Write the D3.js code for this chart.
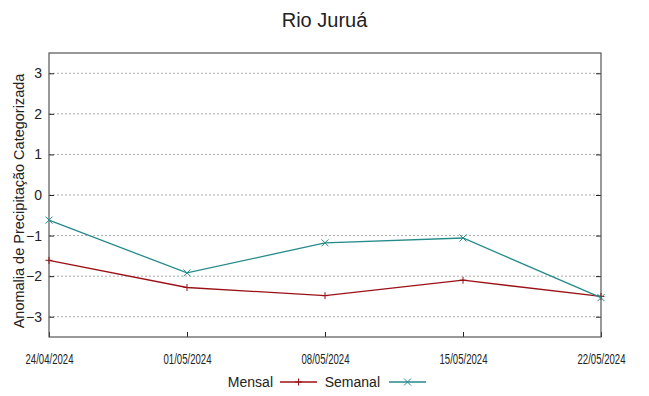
<!DOCTYPE html>
<html>
<head>
<meta charset="utf-8">
<script src="https://cdn.jsdelivr.net/npm/d3@7"></script>
<style>
  body { margin: 0; background: #fff; }
  text { font-family: "Liberation Sans", Arial, sans-serif; fill: #222; }
</style>
</head>
<body>
<div id="chart"></div>
<script>
const datas = ["2024-04-24", "2024-05-01", "2024-05-08", "2024-05-15", "2024-05-22"];
const mensal = [-1.61, -2.28, -2.48, -2.10, -2.50];
const semanal = [-0.62, -1.92, -1.18, -1.06, -2.53];
const yTicks = [-3, -2, -1, 0, 1, 2, 3];

const W = 649, H = 396;
const margin = { left: 49, right: 48, top: 53, bottom: 59 };

const parse = d3.timeParse("%Y-%m-%d");
const fmt = d3.timeFormat("%d/%m/%Y");
const dias = datas.map(parse);

const svg = d3.select("#chart").append("svg")
    .attr("width", W).attr("height", H);

const x = d3.scaleTime()
    .domain(d3.extent(dias))
    .range([margin.left, W - margin.right]);
const y = d3.scaleLinear()
    .domain([-3.5, 3.5])
    .range([H - margin.bottom, margin.top]);

// grade pontilhada
svg.append("g").selectAll("line")
    .data(yTicks)
    .enter().append("line")
    .attr("x1", margin.left).attr("x2", W - margin.right)
    .attr("y1", d => y(d)).attr("y2", d => y(d))
    .attr("stroke", "#aaa").attr("stroke-width", 1)
    .attr("stroke-dasharray", "2,2");

// eixo y (esquerda e direita)
const eixoY = svg.append("g")
    .attr("transform", `translate(${margin.left},0)`)
    .call(d3.axisLeft(y).tickValues(yTicks).tickSize(-5).tickPadding(7).tickFormat(d3.format("d")));
eixoY.select(".domain").remove();
eixoY.selectAll("line").attr("stroke", "#222");
eixoY.selectAll("text").style("font-size", "14px").attr("fill", "#222");

const eixoY2 = svg.append("g")
    .attr("transform", `translate(${W - margin.right},0)`)
    .call(d3.axisRight(y).tickValues(yTicks).tickSize(-5).tickFormat(""));
eixoY2.select(".domain").remove();
eixoY2.selectAll("line").attr("stroke", "#222");

// eixo x
const eixoX = svg.append("g")
    .attr("transform", `translate(0,${H - margin.bottom})`)
    .call(d3.axisBottom(x).tickValues(dias).tickSize(-5).tickPadding(17).tickFormat(fmt));
eixoX.select(".domain").remove();
eixoX.selectAll("line").attr("stroke", "#222");
eixoX.selectAll("text")
    .style("font-size", "14px").attr("fill", "#222")
    .attr("textLength", 48).attr("lengthAdjust", "spacingAndGlyphs");

// borda
svg.append("rect")
    .attr("x", margin.left).attr("y", margin.top)
    .attr("width", W - margin.left - margin.right)
    .attr("height", H - margin.top - margin.bottom)
    .attr("fill", "none").attr("stroke", "#555").attr("stroke-width", 1.2);

const series = [
    { nome: "Mensal", valores: mensal, cor: "#9b1016", marca: "plus" },
    { nome: "Semanal", valores: semanal, cor: "#258a8a", marca: "cross" }
];

const linha = d3.line()
    .x((d, i) => x(dias[i]))
    .y(d => y(d));

function marca(g, tipo, cx, cy, cor) {
    const s = 3.5;
    if (tipo === "plus") {
        g.append("path").attr("d", `M${cx - s},${cy}H${cx + s}M${cx},${cy - s}V${cy + s}`)
            .attr("stroke", cor).attr("stroke-width", 1).attr("fill", "none");
    } else {
        g.append("path").attr("d", `M${cx - s},${cy - s}L${cx + s},${cy + s}M${cx - s},${cy + s}L${cx + s},${cy - s}`)
            .attr("stroke", cor).attr("stroke-width", 1).attr("fill", "none");
    }
}

series.forEach(s => {
    svg.append("path")
        .datum(s.valores)
        .attr("d", linha)
        .attr("fill", "none")
        .attr("stroke", s.cor)
        .attr("stroke-width", 1.3);
    const g = svg.append("g");
    s.valores.forEach((v, i) => marca(g, s.marca, x(dias[i]), y(v), s.cor));
});

// título
svg.append("text")
    .attr("x", W / 2).attr("y", 27)
    .attr("text-anchor", "middle")
    .style("font-size", "20px")
    .text("Rio Juruá");

// rótulo y
svg.append("text")
    .attr("transform", `translate(24,201) rotate(-90)`)
    .attr("text-anchor", "middle")
    .style("font-size", "14.5px")
    .text("Anomalia de Precipitação Categorizada");

// legenda
const leg = svg.append("g");
const legItens = [
    { texto: "Mensal", tx: 273, lx1: 280, lx2: 317, cor: series[0].cor, marca: "plus" },
    { texto: "Semanal", tx: 380, lx1: 389, lx2: 426, cor: series[1].cor, marca: "cross" }
];
legItens.forEach(l => {
    leg.append("text")
        .attr("x", l.tx).attr("y", 387)
        .attr("text-anchor", "end")
        .style("font-size", "14px")
        .text(l.texto);
    leg.append("line")
        .attr("x1", l.lx1).attr("x2", l.lx2)
        .attr("y1", 382).attr("y2", 382)
        .attr("stroke", l.cor).attr("stroke-width", 1.3);
    marca(leg, l.marca, (l.lx1 + l.lx2) / 2, 382, l.cor);
});
</script>
</body>
</html>
